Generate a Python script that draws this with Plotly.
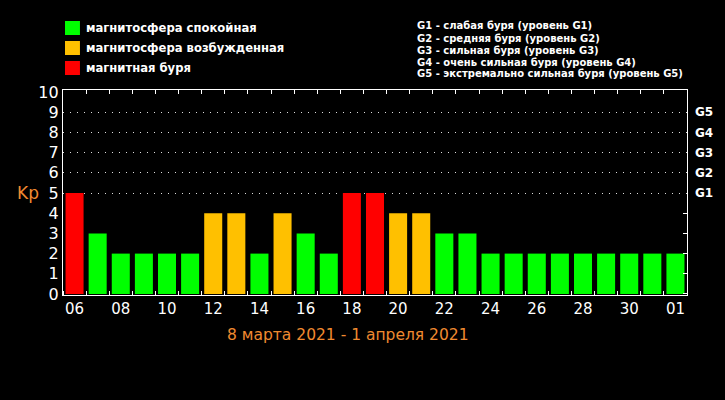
import plotly.graph_objects as go

# ---- data ----
dates = ["06", "07", "08", "09", "10", "11", "12", "13", "14", "15", "16", "17", "18", "19",
         "20", "21", "22", "23", "24", "25", "26", "27", "28", "29", "30", "31", "01"]
kp = [5, 3, 2, 2, 2, 2, 4, 4, 2, 4, 3, 2, 5, 5, 4, 4, 3, 3, 2, 2, 2, 2, 2, 2, 2, 2, 2]
legend_labels = ["магнитосфера спокойная", "магнитосфера возбужденная", "магнитная буря"]
legend_colors = ["#00FF00", "#FFC000", "#FF0000"]
g_levels = [5, 6, 7, 8, 9]
g_labels = ["G1", "G2", "G3", "G4", "G5"]
g_desc = ["G1 - слабая буря (уровень G1)",
          "G2 - средняя буря (уровень G2)",
          "G3 - сильная буря (уровень G3)",
          "G4 - очень сильная буря (уровень G4)",
          "G5 - экстремально сильная буря (уровень G5)"]
y_ticks = list(range(0, 11))
title_text = "8 марта 2021 - 1 апреля 2021"

def status(v):
    if v >= 5:
        return 2
    if v == 4:
        return 1
    return 0

bar_colors = [legend_colors[status(v)] for v in kp]
xs = list(range(len(dates)))

W, H = 725, 400
L, R, T, B = 63, 36, 90, 105
PW, PH = W - L - R, H - T - B

def px(x):
    return (x - L) / PW

def py(y):
    return (H - B - y) / PH

fig = go.Figure()
fig.add_trace(go.Bar(x=xs, y=kp, marker=dict(color=bar_colors, line=dict(width=0)),
                     showlegend=False, hoverinfo="x+y"))
fig.add_trace(go.Scatter(x=[None], y=[None], xaxis="x2", yaxis="y2", showlegend=False))

FONT = "DejaVu Sans"
fig.update_layout(
    width=W, height=H,
    margin=dict(l=L, r=R, t=T, b=B, pad=0),
    paper_bgcolor="black", plot_bgcolor="black",
    bargap=0.22,
    showlegend=False,
    xaxis=dict(range=[-0.5, len(dates) - 0.5], tickmode="array",
               tickvals=xs[::2], ticktext=dates[::2],
               ticks="", showgrid=False, zeroline=False,
               showline=True, linecolor="white", linewidth=1.2, mirror=True,
               tickfont=dict(family=FONT, size=15, color="white"),
               minor=dict(tickmode="linear", tick0=0.5, dtick=1, ticks="inside",
                          ticklen=4, tickcolor="white", tickwidth=1, showgrid=False)),
    xaxis2=dict(range=[-0.5, len(dates) - 0.5], overlaying="x", side="top", anchor="y",
                tickmode="linear", tick0=0.5, dtick=1, ticks="inside", ticklen=4,
                tickcolor="white", showticklabels=False, showgrid=False, zeroline=False,
                showline=False),
    yaxis=dict(range=[-0.05, 10.1], tickmode="array", tickvals=y_ticks,
               ticks="", showgrid=False, zeroline=False,
               showline=True, linecolor="white", linewidth=1.2, mirror=True,
               tickfont=dict(family=FONT, size=16, color="white")),
    yaxis2=dict(range=[-0.05, 10.1], overlaying="y", side="right", anchor="x",
                tickmode="array", tickvals=g_levels, ticktext=g_labels, ticks="",
                ticklabelstandoff=7,
                showgrid=True, gridcolor="#DDDDDD", gridwidth=1, griddash="1px,6px",
                zeroline=False, showline=False,
                tickfont=dict(family=FONT, size=12, color="white", weight="bold"),
                minor=dict(tickvals=[0, 1, 2, 3, 4], ticks="inside", ticklen=4,
                           tickcolor="white", showgrid=False)),
)

# legend (top-left)
for i, (lab, col) in enumerate(zip(legend_labels, legend_colors)):
    yc = 28 + 20 * i
    fig.add_shape(type="rect", xref="paper", yref="paper",
                  x0=px(65), x1=px(80), y0=py(yc + 7), y1=py(yc - 7),
                  fillcolor=col, line=dict(width=0), layer="above")
    fig.add_annotation(text=lab, xref="paper", yref="paper", x=px(84), y=py(yc),
                       xanchor="left", yanchor="middle", showarrow=False,
                       font=dict(family=FONT, size=11.6, color="white", weight="bold"))

# G descriptions (top-right)
for i, d in enumerate(g_desc):
    fig.add_annotation(text=d, xref="paper", yref="paper", x=px(416), y=py(26 + 12 * i),
                       xanchor="left", yanchor="middle", showarrow=False,
                       font=dict(family=FONT, size=10, color="white", weight="bold"))

# Kp label
fig.add_annotation(text="Kp", xref="paper", yref="paper", x=px(28), y=py(193),
                   xanchor="center", yanchor="middle", showarrow=False,
                   font=dict(family=FONT, size=17, color="#F08A30"))
# bottom title
fig.add_annotation(text=title_text, xref="paper", yref="paper", x=px(349), y=py(335),
                   xanchor="center", yanchor="middle", showarrow=False,
                   font=dict(family=FONT, size=15.5, color="#F08A30"))

fig.write_html("out.html")
